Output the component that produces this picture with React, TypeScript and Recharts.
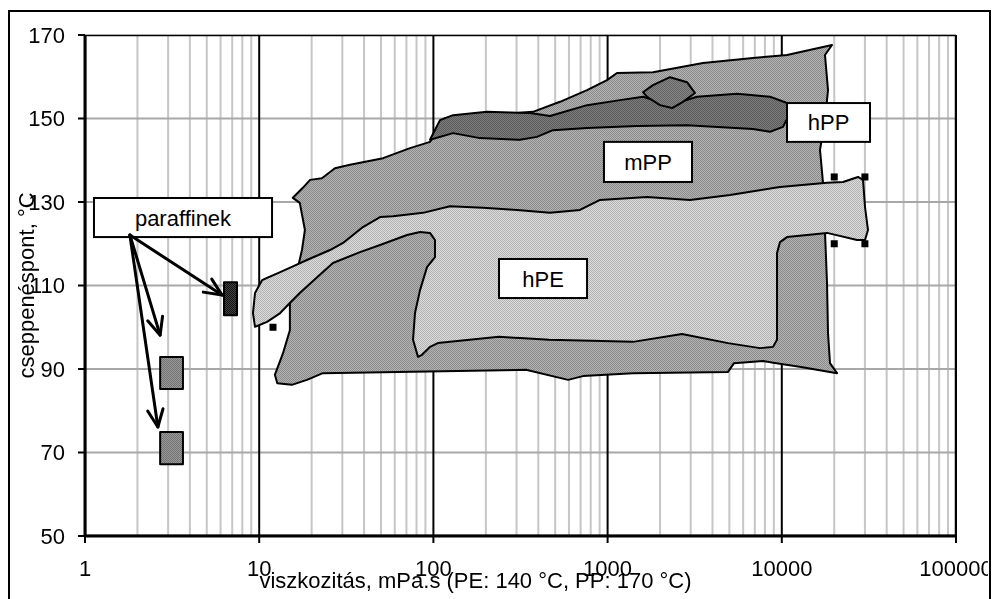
import React from "react";
import {
  ComposedChart,
  Scatter,
  XAxis,
  YAxis,
  CartesianGrid,
  Label,
} from "recharts";

const FONT = '"Liberation Sans", Arial, sans-serif';

// axes
const xTicks = [1, 10, 100, 1000, 10000, 100000];
const yTicks = [50, 70, 90, 110, 130, 150, 170];
const minorSteps = [2, 3, 4, 5, 6, 7, 8, 9];
const minorX = xTicks.slice(0, -1).flatMap((d) => minorSteps.map((m) => d * m));

// plot border (corners of the plot area)
const frameX = [1, 100000, 100000, 1];
const frameY = [170, 170, 50, 50];

// PP region (outer, medium gray)
const ppX = [15.6, 17.8, 19.6, 22.9, 27.2, 33.2, 51.4, 73.4, 95.6, 116.6, 373, 533, 762, 992, 1132, 1822, 3529, 6834, 10712, 19420, 17700, 18420, 17700, 16570, 17240, 18180, 18420, 18910, 20750, 12890, 7800, 5318, 4912, 1399, 722, 593, 340, 23.2, 18.8, 15.4, 12.7, 12.3, 13.7, 15.0, 15.0, 16.7, 17.6, 18.3, 17.1];
const ppY = [131.0, 133.4, 135.3, 135.7, 138.1, 138.9, 140.5, 142.9, 144.4, 150.1, 151.6, 154.0, 156.8, 159.2, 160.9, 161.1, 163.3, 164.5, 165.2, 167.6, 165.2, 156.8, 149.6, 142.5, 134.6, 110.6, 98.6, 91.4, 89.0, 90.5, 91.9, 91.4, 89.3, 89.0, 88.3, 87.4, 89.8, 89.0, 87.4, 86.2, 86.6, 88.6, 93.8, 99.3, 106.5, 114.4, 118.5, 123.3, 129.8];

// hPE region (light)
const hpeX = [9.46, 9.21, 9.46, 10.4, 13.2, 18.8, 25.5, 30.3, 39.4, 49.4, 58.6, 87.2, 124.5, 192.7, 302, 467, 694, 905, 1684, 2972, 5043, 9766, 18180, 22460, 27390, 29260, 30040, 31240, 30040, 27030, 18180, 10710, 9766, 9387, 9387, 8904, 7497, 4912, 2674, 1399, 461, 238, 106, 95.6, 86.0, 81.6, 76.4, 78.4, 83.8, 91.9, 102.1, 102.1, 95.6, 83.8, 70.6, 49.4, 37.9, 26.5, 21.5, 17.1, 15.0, 13.2, 11.1];
const hpeY = [100.1, 103.4, 108.2, 111.3, 113.2, 116.1, 118.5, 120.2, 124.0, 126.4, 126.6, 127.4, 129.0, 128.6, 128.1, 127.4, 128.1, 130.5, 131.2, 130.5, 131.7, 133.6, 134.6, 134.8, 136.0, 135.3, 128.8, 123.3, 120.9, 120.9, 122.6, 121.6, 120.4, 117.8, 97.0, 95.3, 95.0, 96.2, 98.4, 96.5, 97.0, 97.7, 96.2, 95.3, 93.4, 92.9, 97.0, 103.4, 108.9, 114.4, 116.8, 120.9, 122.6, 122.8, 122.1, 119.7, 118.0, 115.4, 112.0, 108.2, 105.8, 103.4, 101.3];

// hPP band (dark)
const hppX = [95.6, 109.1, 129.6, 203, 358, 467, 762, 1178, 1597, 2282, 3261, 5532, 8556, 10712, 11150, 10160, 8556, 6834, 2857, 1475, 762, 486, 393, 314, 185, 129.6];
const hppY = [144.9, 149.6, 150.8, 151.6, 151.3, 150.6, 153.2, 154.4, 155.2, 153.2, 155.2, 155.9, 155.2, 153.7, 151.3, 148.0, 146.8, 147.5, 148.4, 148.2, 147.7, 147.2, 145.6, 144.9, 145.3, 146.5];

// small blob on top of the band
const blobX = [1597, 1822, 2282, 2857, 3176, 2709, 2343, 2000, 1684];
const blobY = [156.3, 158.0, 159.9, 158.7, 156.1, 154.0, 152.5, 153.2, 155.2];

// paraffins (rectangles)
const parX1 = [6.28, 2.7, 2.7];
const parX2 = [7.46, 3.65, 3.65];
const parYLow = [102.9, 85.2, 67.2];
const parYHigh = [110.8, 92.9, 74.9];
const parFill = ["url(#texBlack)", "url(#texPar)", "url(#texPar)"];

// single points
const pointX = [12, 20000, 30000, 20000, 30000];
const pointY = [100, 136, 136, 120, 120];

// label boxes
const boxText = ["paraffinek", "hPE", "mPP", "hPP"];
const boxX1 = [1.126, 238, 953, 10715];
const boxX2 = [11.85, 762, 3051, 32090];
const boxY1 = [121.6, 107, 134.8, 144.4];
const boxY2 = [130.96, 116.35, 144.4, 153.7];

// arrows from the paraffinek box
const arrowFrom = { x: 1.81, y: 122.1 };
const arrowToX = [6.12, 2.7, 2.62];
const arrowToY = [107.7, 98.1, 76.1];

const zip = (xs: number[], ys: number[]) => xs.map((x, i) => ({ x, y: ys[i] }));

const emptyShape = () => <g />;

const closedShape =
  (fill: string, strokeWidth = 2) =>
  (props: any) => {
    const pts: { x: number; y: number }[] = props.points || [];
    if (!pts.length) return <g />;
    const d = pts.map((p, i) => `${i ? "L" : "M"}${p.x},${p.y}`).join(" ") + " Z";
    return (
      <path
        d={d}
        fill={fill}
        stroke="#000"
        strokeWidth={strokeWidth}
        strokeLinejoin="round"
      />
    );
  };

const labelBox = (text: string) => (props: any) => {
  const pts: { x: number; y: number }[] = props.points || [];
  if (!pts.length) return <g />;
  const xs = pts.map((p) => p.x);
  const ys = pts.map((p) => p.y);
  const x0 = Math.min(...xs);
  const x1 = Math.max(...xs);
  const y0 = Math.min(...ys);
  const y1 = Math.max(...ys);
  return (
    <g>
      <rect x={x0} y={y0} width={x1 - x0} height={y1 - y0} fill="#fff" stroke="#000" strokeWidth={2} />
      <text
        x={(x0 + x1) / 2}
        y={(y0 + y1) / 2 + 8}
        textAnchor="middle"
        fontSize={22}
        fontFamily={FONT}
        fill="#000"
      >
        {text}
      </text>
    </g>
  );
};

const arrowLine = (props: any) => {
  const pts: { x: number; y: number }[] = props.points || [];
  if (pts.length < 2) return <g />;
  const [a, b] = pts;
  const ang = Math.atan2(b.y - a.y, b.x - a.x);
  const len = 19;
  const spread = 0.42;
  const p1 = { x: b.x - len * Math.cos(ang - spread), y: b.y - len * Math.sin(ang - spread) };
  const p2 = { x: b.x - len * Math.cos(ang + spread), y: b.y - len * Math.sin(ang + spread) };
  return (
    <g stroke="#000" strokeWidth={3} fill="none" strokeLinecap="round" strokeLinejoin="round">
      <line x1={a.x} y1={a.y} x2={b.x} y2={b.y} />
      <polyline points={`${p1.x},${p1.y} ${b.x},${b.y} ${p2.x},${p2.y}`} />
    </g>
  );
};

const squareMark = (props: any) => (
  <rect x={props.cx - 3.5} y={props.cy - 3.5} width={7} height={7} fill="#000" />
);

const tex = (id: string, base: string, dot: string) => (
  <pattern id={id} width={2} height={2} patternUnits="userSpaceOnUse">
    <rect width={2} height={2} fill={base} />
    <rect width={1} height={1} fill={dot} />
    <rect x={1} y={1} width={1} height={1} fill={dot} />
  </pattern>
);

export default function App() {
  return (
    <>
      <style>{"html,body{overflow:hidden}"}</style>
      <div
        style={{
          position: "fixed",
          left: 8,
          top: 10,
          width: 983,
          height: 640,
          border: "2px solid #000",
          boxSizing: "border-box",
          pointerEvents: "none",
        }}
      />
      <ComposedChart
        width={988}
        height={591}
        margin={{ top: 27, right: 40, bottom: 8, left: 0 }}
        style={{ fontFamily: FONT }}
      >
        <defs>
          {tex("texMid", "#b4b4b4", "#8a8a8a")}
          {tex("texLight", "#dcdcdc", "#b2b2b2")}
          {tex("texDark", "#7e7e7e", "#5a5a5a")}
          {tex("texBlob", "#888888", "#626262")}
          {tex("texPar", "#9a9a9a", "#727272")}
          {tex("texBlack", "#444444", "#111111")}
        </defs>
        <CartesianGrid horizontal={false} verticalValues={minorX} stroke="#c6c6c6" strokeWidth={2} />
        <CartesianGrid vertical={false} stroke="#a8a8a8" strokeWidth={2} />
        <CartesianGrid horizontal={false} stroke="#000" strokeWidth={2} />
        <XAxis
          type="number"
          dataKey="x"
          scale="log"
          domain={[1, 100000]}
          ticks={xTicks}
          interval={0}
          allowDataOverflow
          height={55}
          tickSize={7}
          tickMargin={17}
          axisLine={{ stroke: "#000", strokeWidth: 3 }}
          tickLine={{ stroke: "#000", strokeWidth: 2 }}
          tick={{ fill: "#000", fontSize: 22, fontFamily: FONT }}
          tickFormatter={(v: number) => String(v)}
        >
          <Label
            value="viszkozitás, mPa.s (PE: 140 °C, PP: 170 °C)"
            position="insideBottom"
            offset={3}
            dx={-45}
            fill="#000"
            style={{ fontSize: 22, fontFamily: FONT, fill: "#000" }}
          />
        </XAxis>
        <YAxis
          type="number"
          dataKey="y"
          domain={[50, 170]}
          ticks={yTicks}
          interval={0}
          allowDataOverflow
          width={77}
          tickSize={7}
          tickMargin={13}
          axisLine={{ stroke: "#000", strokeWidth: 3 }}
          tickLine={{ stroke: "#000", strokeWidth: 2 }}
          tick={{ fill: "#000", fontSize: 22, fontFamily: FONT }}
        >
          <Label
            value="cseppenéspont, °C"
            angle={-90}
            position="insideLeft"
            offset={18}
            fill="#000"
            style={{ fontSize: 22, fontFamily: FONT, fill: "#000", textAnchor: "middle" }}
          />
        </YAxis>

        <Scatter data={zip(frameX, frameY)} shape={emptyShape} line={closedShape("none", 2.5)} isAnimationActive={false} />
        <Scatter data={zip(ppX, ppY)} shape={emptyShape} line={closedShape("url(#texMid)")} isAnimationActive={false} />
        <Scatter data={zip(hpeX, hpeY)} shape={emptyShape} line={closedShape("url(#texLight)")} isAnimationActive={false} />
        <Scatter data={zip(hppX, hppY)} shape={emptyShape} line={closedShape("url(#texDark)")} isAnimationActive={false} />
        <Scatter data={zip(blobX, blobY)} shape={emptyShape} line={closedShape("url(#texBlob)")} isAnimationActive={false} />

        {parX1.map((x1, i) => (
          <Scatter
            key={`par${i}`}
            data={zip([x1, parX2[i], parX2[i], x1], [parYHigh[i], parYHigh[i], parYLow[i], parYLow[i]])}
            shape={emptyShape}
            line={closedShape(parFill[i])}
            isAnimationActive={false}
          />
        ))}

        <Scatter data={zip(pointX, pointY)} shape={squareMark} isAnimationActive={false} />

        {boxText.map((t, i) => (
          <Scatter
            key={`box${i}`}
            data={zip([boxX1[i], boxX2[i], boxX2[i], boxX1[i]], [boxY2[i], boxY2[i], boxY1[i], boxY1[i]])}
            shape={emptyShape}
            line={labelBox(t)}
            isAnimationActive={false}
          />
        ))}

        {arrowToX.map((x, i) => (
          <Scatter
            key={`arr${i}`}
            data={[arrowFrom, { x, y: arrowToY[i] }]}
            shape={emptyShape}
            line={arrowLine}
            isAnimationActive={false}
          />
        ))}
      </ComposedChart>
    </>
  );
}
